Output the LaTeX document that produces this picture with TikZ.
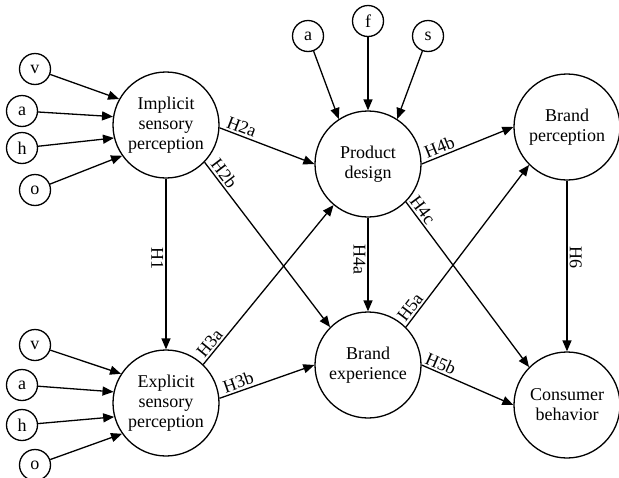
\documentclass[tikz,border=0pt]{standalone}
\usepackage{fontspec}
\setmainfont{Liberation Serif}
\usetikzlibrary{arrows.meta}
\begin{document}
\begin{tikzpicture}[x=1pt,y=-1pt,
  big/.style={circle,draw,line width=1.3pt,minimum size=106pt,inner sep=0pt,align=center,font=\fontsize{18}{20}\selectfont},
  small/.style={circle,draw,line width=1.3pt,minimum size=31pt,inner sep=0pt,font=\fontsize{18}{20}\selectfont},
  arr/.style={line width=1.3pt,-{Triangle[length=11pt,width=9pt]}},
  lbl/.style={font=\fontsize{18}{20}\selectfont,inner sep=2pt}]
\useasboundingbox (0,0) rectangle (619,477);
% big nodes
\node[big] (I) at (166,125) {Implicit\\sensory\\perception};
\node[big] (E) at (166,403) {Explicit\\sensory\\perception};
\node[big] (P) at (368,164) {Product\\design};
\node[big] (B) at (368,365) {Brand\\experience};
\node[big] (R) at (567,127) {Brand\\perception};
\node[big] (C) at (567,405) {Consumer\\behavior};
% small nodes
\node[small] (v1) at (35,69) {v};
\node[small] (a1) at (22,111) {a};
\node[small] (h1) at (22,148) {h};
\node[small] (o1) at (35,190) {o};
\node[small] (v2) at (35,345) {v};
\node[small] (a2) at (22,385) {a};
\node[small] (h2) at (22,425) {h};
\node[small] (o2) at (35,465) {o};
\node[small] (ta) at (308,36) {a};
\node[small] (tf) at (368,21) {f};
\node[small] (ts) at (428,36) {s};
% indicator arrows
\draw[arr] (v1) -- (I.151);
\draw[arr] (a1) -- (I.171);
\draw[arr] (h1) -- (I.194);
\draw[arr] (o1) -- (I.215);
\draw[arr] (v2) -- (E.147);
\draw[arr] (a2) -- (E.168);
\draw[arr] (h2) -- (E.195);
\draw[arr] (o2) -- (E.215);
\draw[arr] (ta) -- (P.123);
\draw[arr] (tf) -- (P.north);
\draw[arr] (ts) -- (P.57);
% hypotheses
\draw[arr] (I.south) -- node[lbl,pos=.47,rotate=-90,anchor=north]{H1} (E.north);
\draw[arr] (I.-3) -- node[lbl,sloped,above,pos=.2]{H2a} (P.west);
\draw[arr] (I.-44) -- node[lbl,sloped,above,pos=.1]{H2b} (B.135);
\draw[arr] (E.46) -- node[lbl,sloped,above,pos=.1]{H3a} (P.230);
\draw[arr] (E.5) -- node[lbl,sloped,above,pos=.23]{H3b} (B.west);
\draw[arr] (P.south) -- node[lbl,pos=.45,rotate=-90,anchor=north]{H4a} (B.north);
\draw[arr] (P.east) -- node[lbl,sloped,above,pos=.23]{H4b} (R.west);
\draw[arr] (P.-45) -- node[lbl,sloped,above,pos=.08]{H4c} (C.135);
\draw[arr] (B.45) -- node[lbl,sloped,above,pos=.09]{H5a} (R.225);
\draw[arr] (B.east) -- node[lbl,sloped,above,pos=.17]{H5b} (C.west);
\draw[arr] (R.south) -- node[lbl,pos=.45,rotate=-90,anchor=south]{H6} (C.north);
\end{tikzpicture}
\end{document}
